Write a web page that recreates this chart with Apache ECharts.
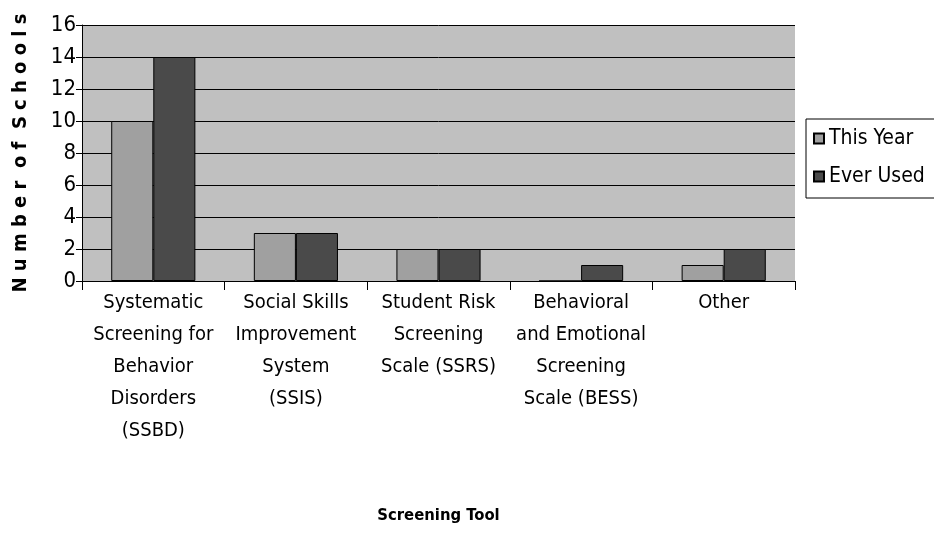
<!DOCTYPE html>
<html>
<head>
<meta charset="utf-8">
<script src="https://cdn.jsdelivr.net/npm/echarts@6/dist/echarts.min.js"></script>
<style>
  html, body { margin: 0; padding: 0; background: #fff; }
  #chart { width: 934px; height: 559px; }
</style>
</head>
<body>
<div id="chart"></div>
<script>
var categories = [
  'Systematic\nScreening for\nBehavior\nDisorders\n(SSBD)',
  'Social Skills\nImprovement\nSystem\n(SSIS)',
  'Student Risk\nScreening\nScale (SSRS)',
  'Behavioral\nand Emotional\nScreening\nScale (BESS)',
  'Other'
];
var thisYear = [10, 3, 2, 0, 1];
var everUsed = [14, 3, 2, 1, 2];

var font = '"DejaVu Sans Condensed", "Liberation Sans Narrow", "Arial Narrow", sans-serif';

var chart = echarts.init(document.getElementById('chart'));
chart.setOption({
  animation: false,
  textStyle: { fontFamily: font, color: '#000' },
  grid: {
    left: 82, right: 139, top: 25, bottom: 278,
    outerBoundsMode: 'none', containLabel: false,
    backgroundColor: '#c0c0c0', show: true, borderWidth: 0
  },
  legend: {
    orient: 'vertical',
    left: 806, top: 119,
    icon: 'rect',
    itemWidth: 10, itemHeight: 10, itemGap: 17,
    padding: [9, 10, 11, 7],
    borderColor: '#000', borderWidth: 1,
    backgroundColor: '#fff',
    textStyle: { fontFamily: font, fontSize: 21, color: '#000' },
    data: ['This Year', 'Ever Used']
  },
  xAxis: {
    type: 'category',
    data: categories,
    name: 'Screening Tool',
    nameLocation: 'middle',
    nameGap: 226,
    nameTextStyle: { fontFamily: font, fontSize: 16.5, fontWeight: 'bold', color: '#000' },
    axisLine: { lineStyle: { color: '#000', width: 1 } },
    axisTick: { show: true, length: 9, lineStyle: { color: '#000' } },
    axisLabel: { fontFamily: font, fontSize: 20, lineHeight: 32, color: '#000', margin: 6, verticalAlign: 'top', interval: 0 }
  },
  yAxis: {
    type: 'value',
    min: 0, max: 16, interval: 2,
    name: 'N u m b e r  o f  S c h o o l s',
    nameLocation: 'middle',
    nameRotate: 90,
    nameGap: 51,
    nameTextStyle: { fontFamily: font, fontSize: 20, fontWeight: 'bold', color: '#000' },
    axisLine: { show: true, lineStyle: { color: '#000', width: 1 } },
    axisTick: { show: true, length: 6, lineStyle: { color: '#000' } },
    axisLabel: { fontFamily: font, fontSize: 22, color: '#000', margin: 6 },
    splitLine: { lineStyle: { color: '#000', width: 1 } }
  },
  series: [
    {
      name: 'This Year', type: 'bar', data: thisYear,
      barGap: '0%', barCategoryGap: '41%',
      itemStyle: { color: '#a0a0a0', borderColor: '#000', borderWidth: 1 }
    },
    {
      name: 'Ever Used', type: 'bar', data: everUsed,
      itemStyle: { color: '#4a4a4a', borderColor: '#000', borderWidth: 1 }
    }
  ]
});
</script>
</body>
</html>
